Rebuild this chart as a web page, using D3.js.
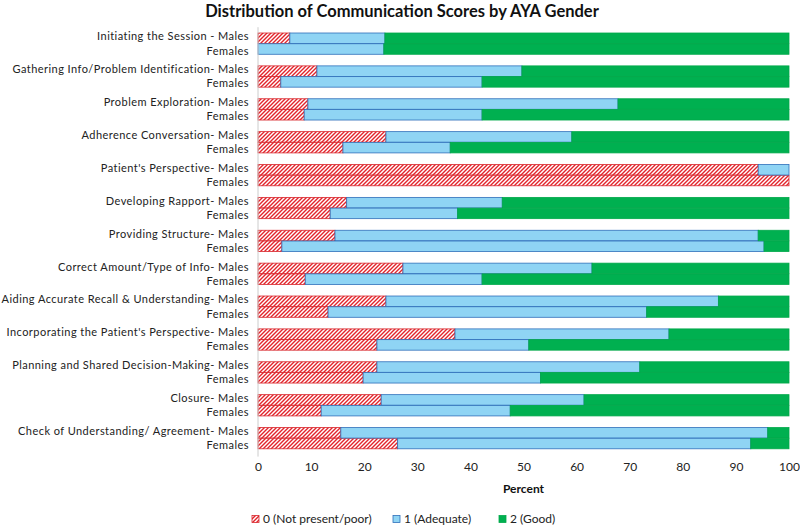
<!DOCTYPE html>
<html><head><meta charset="utf-8">
<script src="https://cdn.jsdelivr.net/npm/d3@7"></script>
<style>body{margin:0;background:#fff;} svg{display:block;}</style>
</head><body>
<svg id="chart" width="800" height="527"></svg>
<script>
const categories = [
  "Initiating the Session - Males",
  "Gathering Info/Problem Identification- Males",
  "Problem Exploration- Males",
  "Adherence Conversation- Males",
  "Patient's Perspective- Males",
  "Developing Rapport- Males",
  "Providing Structure- Males",
  "Correct Amount/Type of Info- Males",
  "Aiding Accurate Recall & Understanding- Males",
  "Incorporating the Patient's Perspective- Males",
  "Planning and Shared Decision-Making- Males",
  "Closure- Males",
  "Check of Understanding/ Agreement- Males"
];
const genders = ["Males", "Females"];
const scoreLabels = ["0 (Not present/poor)", "1 (Adequate)", "2 (Good)"];
const malesPoor     = [6.0, 11.1, 9.4, 24.1, 94.2, 16.7, 14.5, 27.3, 24.1, 37.1, 22.4, 23.2, 15.6];
const malesAdequate = [17.9, 38.6, 58.4, 35.0, 5.8, 29.3, 79.7, 35.6, 62.6, 40.3, 49.5, 38.2, 80.4];
const malesGood     = [76.1, 50.3, 32.2, 40.9, 0.0, 54.0, 5.8, 37.1, 13.3, 22.6, 28.1, 38.6, 4.0];
const femalesPoor     = [0.0, 4.3, 8.7, 16.0, 100.0, 13.6, 4.5, 8.9, 13.2, 22.4, 19.8, 11.9, 26.3];
const femalesAdequate = [23.7, 37.9, 33.5, 20.2, 0.0, 24.0, 90.8, 33.3, 60.0, 28.6, 33.4, 35.6, 66.5];
const femalesGood     = [76.3, 57.8, 57.8, 63.8, 0.0, 62.4, 4.7, 57.8, 26.8, 49.0, 46.8, 52.5, 7.2];
const xTicks = [0, 10, 20, 30, 40, 50, 60, 70, 80, 90, 100];

const rows = [];
categories.forEach((c, i) => {
  rows.push({cat: c, g: "Males", s0: malesPoor[i], s1: malesAdequate[i], s2: malesGood[i]});
  rows.push({cat: c, g: "Females", s0: femalesPoor[i], s1: femalesAdequate[i], s2: femalesGood[i]});
});

const svg = d3.select("#chart");
const mLeft = 258, mRight = 789, mTop = 27.2, mBottom = 454.6;
const font = "Lato, 'Open Sans', sans-serif";

const defs = svg.append("defs");
const pat = defs.append("pattern").attr("id", "hatch").attr("patternUnits", "userSpaceOnUse")
  .attr("width", 4).attr("height", 4);
pat.append("rect").attr("width", 4).attr("height", 4).attr("fill", "#fff");
pat.append("path").attr("d", "M-1,1 l2,-2 M0,4 l4,-4 M3,5 l2,-2")
  .attr("stroke", "#e3242b").attr("stroke-width", 1.4);

const x = d3.scaleLinear().domain([0, 100]).range([mLeft, mRight]);
const y = d3.scaleBand().domain(categories).range([mTop, mBottom]).paddingInner(0.34).paddingOuter(0.17);
const ySub = d3.scaleBand().domain(genders).range([0, y.bandwidth()]).padding(0.02);

const keys = ["s0", "s1", "s2"];
const fills = ["url(#hatch)", "#8fd4f4", "#00b050"];
const strokes = ["#d8262c", "#2f6fba", "#00a84a"];
const stack = d3.stack().keys(keys)(rows);

svg.append("text").attr("x", 402).attr("y", 17).attr("text-anchor", "middle")
  .attr("font-family", font).attr("font-weight", "bold").attr("font-size", 16.5)
  .attr("fill", "#111").text("Distribution of Communication Scores by AYA Gender");

stack.forEach((layer, k) => {
  svg.append("g").selectAll("rect").data(layer.filter(d => d[1] - d[0] > 0)).join("rect")
    .attr("x", d => x(d[0]))
    .attr("width", d => x(d[1]) - x(d[0]))
    .attr("y", d => y(d.data.cat) + ySub(d.data.g))
    .attr("height", ySub.bandwidth())
    .attr("fill", fills[k])
    .attr("stroke", strokes[k]).attr("stroke-width", 0.8);
});

// category labels: one two-line text per category
const lab = svg.append("g").attr("font-family", font).attr("font-size", 11)
  .attr("letter-spacing", 0.45).attr("fill", "#222").attr("text-anchor", "end");
categories.forEach(c => {
  const t = lab.append("text");
  genders.forEach(g => {
    t.append("tspan").attr("x", mLeft - 9)
      .attr("y", y(c) + ySub(g) + ySub.bandwidth() / 2 + (g === "Males" ? -1.7 : 1.7))
      .attr("dy", "0.35em")
      .text(g === "Males" ? c : "Females");
  });
});

// x axis
const xa = svg.append("g").attr("transform", `translate(0,${mBottom})`)
  .call(d3.axisBottom(x).tickValues(xTicks).tickSize(0).tickPadding(8));
xa.select(".domain").remove();
xa.selectAll("text").attr("font-family", font).attr("font-size", 12).attr("fill", "#222");
svg.append("line").attr("x1", mLeft).attr("x2", mLeft).attr("y1", mTop).attr("y2", mBottom + 2)
  .attr("stroke", "#ccc").attr("stroke-width", 1);

svg.append("text").attr("x", x(50)).attr("y", 493).attr("text-anchor", "middle")
  .attr("font-family", font).attr("font-weight", "bold").attr("font-size", 12)
  .attr("fill", "#111").text("Percent");

// legend
const legX = [252, 393, 499];
const leg = svg.append("g").attr("font-family", font).attr("font-size", 12).attr("fill", "#222");
scoreLabels.forEach((t, i) => {
  const g = leg.append("g").attr("transform", `translate(${legX[i]},519)`);
  g.append("rect").attr("x", 0).attr("y", -3.5).attr("width", 7).attr("height", 7)
    .attr("fill", fills[i]).attr("stroke", strokes[i]).attr("stroke-width", 0.8);
  g.append("text").attr("x", 11).attr("dy", "0.35em").text(t);
});
</script>
</body></html>
